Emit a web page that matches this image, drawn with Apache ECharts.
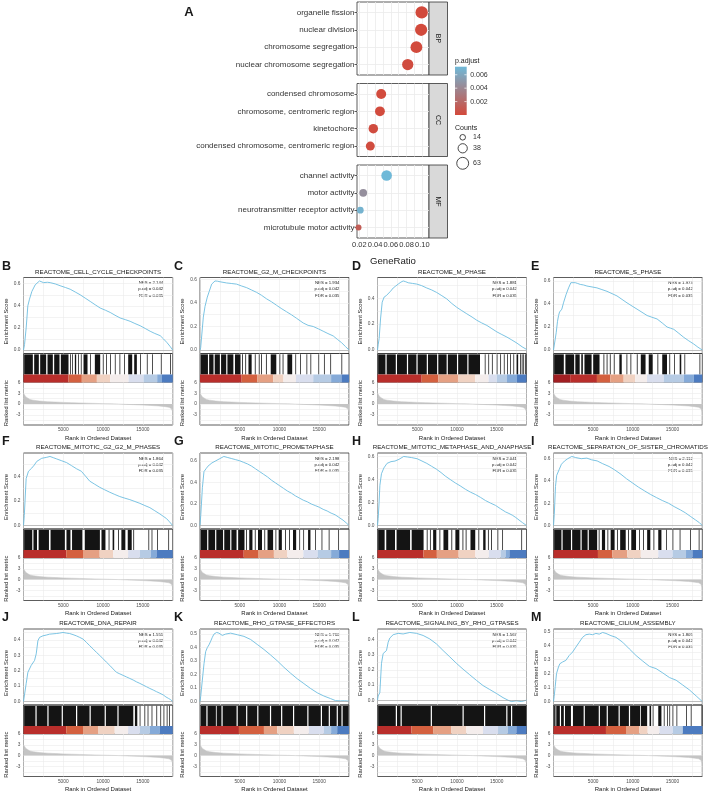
<!DOCTYPE html>
<html><head><meta charset="utf-8">
<script src="https://cdn.jsdelivr.net/npm/echarts@6/dist/echarts.min.js"></script>
<style>html,body{margin:0;padding:0;background:#fff}#chart{width:708px;height:794px}</style>
</head><body><div id="chart"></div>
<script>
// ---------------- Panel A data ----------------
const bpTerms = ['organelle fission','nuclear division','chromosome segregation','nuclear chromosome segregation'];
const bpRatio = [0.0992, 0.0985, 0.0925, 0.0815];
const bpCount = [68, 66, 62, 56];
const bpPadj = [0.00005, 0.00005, 0.0001, 0.0002];
const ccTerms = ['condensed chromosome','chromosome, centromeric region','kinetochore','condensed chromosome, centromeric region'];
const ccRatio = [0.0478, 0.0462, 0.0378, 0.034];
const ccCount = [44, 43, 40, 36];
const ccPadj = [0.0001, 0.0001, 0.0002, 0.0002];
const mfTerms = ['channel activity','motor activity','neurotransmitter receptor activity','microtubule motor activity'];
const mfRatio = [0.0547, 0.025, 0.0213, 0.019];
const mfCount = [50, 27, 20, 16];
const mfPadj = [0.0072, 0.0045, 0.0068, 0.0012];
const ratioTicks = [0.02, 0.04, 0.06, 0.08, 0.10];
const padjTicks = [0.002, 0.004, 0.006];
const countTicks = [14, 38, 63];

// ---------------- GSEA data ----------------
const panelIds = ['B','C','D','E','F','G','H','I','J','K','L','M'];
const panelTitles = ['REACTOME_CELL_CYCLE_CHECKPOINTS','REACTOME_G2_M_CHECKPOINTS','REACTOME_M_PHASE','REACTOME_S_PHASE',
  'REACTOME_MITOTIC_G2_G2_M_PHASES','REACTOME_MITOTIC_PROMETAPHASE','REACTOME_MITOTIC_METAPHASE_AND_ANAPHASE','REACTOME_SEPARATION_OF_SISTER_CHROMATIDS',
  'REACTOME_DNA_REPAIR','REACTOME_RHO_GTPASE_EFFECTORS','REACTOME_SIGNALING_BY_RHO_GTPASES','REACTOME_CILIUM_ASSEMBLY'];
const panelNES = ['2.144','1.934','1.881','1.973','1.864','2.198','2.041','2.112','1.551','1.760','1.567','1.805'];
const panelPadj = ['0.042','0.042','0.042','0.042','0.042','0.042','0.042','0.042','0.042','0.042','0.042','0.042'];
const panelFDR = ['0.035','0.035','0.035','0.035','0.035','0.035','0.035','0.035','0.035','0.035','0.035','0.035'];
const esTicks = [[0,0.2,0.4,0.6],[0,0.2,0.4,0.6],[0,0.2,0.4],[0,0.2,0.4,0.6],
  [0,0.2,0.4],[0,0.2,0.4,0.6],[0,0.2,0.4,0.6],[0,0.2,0.4,0.6],
  [0,0.1,0.2,0.3,0.4],[0,0.1,0.2,0.3,0.4,0.5],[0,0.1,0.2,0.3,0.4],[0,0.1,0.2,0.3,0.4,0.5]];
const rankTicks = [5000, 10000, 15000];
const metricTicks = [-3, 0, 3, 6];

const esB = [[0,0],[130,0.05],[335,0.2],[545,0.4],[754,0.46],[1050,0.53],[1470,0.59],[2010,0.625],[2510,0.61],[3000,0.613],[3350,0.61],[4000,0.598],[4600,0.582],[5300,0.565],[5870,0.55],[6500,0.525],[7120,0.5],[7750,0.47],[8380,0.44],[9000,0.41],[9640,0.38],[10300,0.36],[10900,0.34],[11500,0.315],[12150,0.29],[12800,0.275],[13400,0.26],[14000,0.24],[14660,0.22],[15300,0.195],[15920,0.17],[16500,0.15],[17180,0.13],[17600,0.1],[18000,0.07],[18400,0.035],[18750,0]];
const esC = [[0,0],[84,0.02],[420,0.28],[630,0.37],[920,0.45],[1170,0.5],[1470,0.56],[1890,0.587],[2200,0.585],[2520,0.58],[3350,0.57],[4000,0.565],[4610,0.56],[5200,0.545],[5870,0.53],[6500,0.51],[7120,0.49],[7750,0.465],[8380,0.435],[9000,0.41],[9640,0.38],[10300,0.35],[10900,0.325],[11500,0.3],[12150,0.27],[12990,0.23],[13600,0.21],[14250,0.2],[14900,0.18],[15500,0.16],[16100,0.14],[16760,0.12],[17300,0.09],[17810,0.063],[18300,0.03],[18750,0]];
const esD = [[0,0],[84,0.04],[210,0.09],[380,0.24],[590,0.37],[840,0.41],[1100,0.42],[1350,0.43],[1650,0.455],[1980,0.48],[2300,0.495],[2610,0.51],[2950,0.525],[3240,0.534],[3550,0.528],[3870,0.52],[4400,0.515],[4930,0.51],[5550,0.498],[6190,0.48],[6800,0.465],[7450,0.445],[8100,0.42],[8720,0.395],[9350,0.36],[9980,0.33],[10600,0.305],[11240,0.28],[11900,0.255],[12500,0.23],[13100,0.21],[13770,0.19],[14400,0.165],[15030,0.14],[15650,0.12],[16290,0.1],[16900,0.078],[17560,0.053],[18200,0.025],[18750,0.005]];
const esE = [[0,0],[84,0.01],[340,0.15],[505,0.25],[640,0.3],[760,0.33],[1050,0.355],[1260,0.41],[1600,0.485],[1900,0.54],[2190,0.585],[2440,0.6],[2740,0.585],[3050,0.578],[3370,0.57],[3800,0.565],[4210,0.556],[4850,0.548],[5470,0.54],[6100,0.525],[6740,0.51],[7370,0.49],[8000,0.47],[8630,0.44],[9260,0.41],[9900,0.382],[10530,0.355],[11150,0.328],[11790,0.3],[12400,0.285],[13050,0.27],[13700,0.235],[14310,0.2],[14730,0.19],[15160,0.18],[15800,0.145],[16420,0.11],[17050,0.08],[17680,0.052],[18200,0.025],[18750,0]];
const esF = [[0,0],[100,0.08],[333,0.38],[625,0.44],[1040,0.466],[1350,0.49],[1670,0.52],[2290,0.545],[2920,0.553],[3330,0.56],[3750,0.55],[4170,0.54],[4800,0.525],[5420,0.51],[6050,0.485],[6670,0.46],[7270,0.44],[7800,0.4],[8320,0.36],[8950,0.335],[9580,0.31],[10200,0.29],[10840,0.27],[11470,0.252],[12100,0.235],[12730,0.222],[13360,0.21],[14000,0.195],[14620,0.18],[15250,0.162],[15880,0.145],[16500,0.12],[17140,0.094],[17560,0.075],[17980,0.056],[18350,0.03],[18750,0]];
const esG = [[0,0],[100,0.1],[300,0.35],[500,0.5],[800,0.53],[1000,0.55],[1500,0.58],[2000,0.6],[2500,0.62],[3000,0.64],[3500,0.63],[4000,0.62],[4500,0.61],[5000,0.6],[5500,0.585],[6000,0.57],[6500,0.55],[7000,0.525],[7500,0.5],[8000,0.475],[8500,0.45],[9000,0.42],[9500,0.395],[10000,0.37],[10500,0.345],[11000,0.32],[11500,0.3],[12000,0.275],[12500,0.255],[13000,0.235],[13500,0.22],[14000,0.2],[14500,0.185],[15000,0.17],[15500,0.15],[16000,0.135],[16500,0.115],[17000,0.1],[17500,0.075],[18000,0.05],[18400,0.025],[18750,0]];
const esH = [[0,0],[84,0.06],[200,0.2],[300,0.35],[500,0.45],[800,0.5],[1200,0.54],[1700,0.555],[2200,0.56],[2700,0.575],[3300,0.6],[3800,0.595],[4300,0.59],[5000,0.58],[5600,0.56],[6200,0.54],[6800,0.515],[7400,0.49],[8000,0.46],[8520,0.43],[9150,0.4],[9790,0.37],[10400,0.345],[11060,0.315],[11700,0.29],[12320,0.27],[12950,0.245],[13590,0.217],[14220,0.195],[14850,0.175],[15500,0.145],[16120,0.118],[16540,0.105],[16960,0.09],[17400,0.07],[17810,0.048],[18250,0.025],[18750,0]];
const esI = [[0,0],[100,0.1],[250,0.35],[400,0.45],[700,0.5],[1000,0.55],[1400,0.58],[1800,0.6],[2300,0.62],[2800,0.61],[3500,0.6],[4200,0.605],[4800,0.59],[5500,0.58],[6200,0.555],[7000,0.53],[7700,0.5],[8500,0.46],[9200,0.42],[10000,0.38],[10700,0.345],[11500,0.31],[12200,0.28],[13000,0.25],[13700,0.225],[14500,0.2],[15200,0.17],[16000,0.14],[16600,0.115],[17300,0.08],[17900,0.05],[18400,0.025],[18750,0]];
const esJ = [[0,0],[340,0.118],[550,0.19],[970,0.235],[1390,0.267],[1600,0.31],[1810,0.395],[2020,0.417],[2440,0.427],[2860,0.432],[3280,0.438],[3700,0.44],[4120,0.442],[4540,0.445],[4960,0.449],[5380,0.445],[5800,0.442],[6220,0.435],[6640,0.427],[7060,0.417],[7480,0.406],[7900,0.385],[8320,0.363],[8740,0.342],[9160,0.32],[9580,0.3],[10000,0.278],[10420,0.256],[10840,0.235],[11260,0.212],[11680,0.19],[12100,0.18],[12520,0.17],[12940,0.16],[13360,0.15],[13780,0.14],[14200,0.128],[14620,0.118],[15040,0.107],[15460,0.096],[15880,0.085],[16300,0.075],[16720,0.064],[17140,0.054],[17560,0.043],[17900,0.03],[18200,0.021],[18500,0.012],[18750,0]];
const esK = [[0,0],[84,0.036],[293,0.048],[503,0.28],[712,0.37],[922,0.4],[1131,0.42],[1341,0.447],[1550,0.476],[1760,0.5],[2095,0.512],[2388,0.507],[2807,0.49],[3226,0.5],[3855,0.507],[4693,0.495],[5531,0.483],[6369,0.46],[7207,0.423],[8045,0.386],[8883,0.345],[9721,0.302],[10559,0.254],[11397,0.21],[12235,0.169],[13073,0.133],[13911,0.097],[14749,0.065],[15587,0.041],[16425,0.022],[17053,0.007],[17682,0.005],[18200,0.006],[18750,0.003]];
const esL = [[0,0],[84,0.028],[293,0.05],[503,0.245],[712,0.31],[922,0.32],[1131,0.33],[1341,0.385],[1550,0.413],[1969,0.435],[2598,0.444],[3226,0.44],[4064,0.45],[4902,0.444],[5740,0.43],[6578,0.407],[7416,0.374],[8254,0.33],[9092,0.288],[9930,0.245],[10768,0.206],[11606,0.169],[12444,0.132],[13282,0.097],[14120,0.071],[14958,0.045],[15796,0.017],[16425,0],[16844,-0.009],[17472,-0.004],[18101,-0.009],[18750,0]];
const esM = [[0,0],[84,0.035],[211,0.106],[379,0.2],[632,0.248],[800,0.271],[1137,0.283],[1347,0.276],[1558,0.295],[1979,0.33],[2400,0.354],[2821,0.39],[3242,0.425],[3663,0.46],[4084,0.479],[4505,0.483],[4926,0.479],[5347,0.488],[5768,0.483],[6189,0.495],[6610,0.488],[7241,0.472],[7873,0.46],[8715,0.425],[9557,0.377],[10399,0.33],[11241,0.29],[12083,0.252],[12925,0.236],[13767,0.205],[14609,0.172],[15451,0.153],[16293,0.118],[17135,0.083],[17977,0.04],[18750,0]];

const hitsB = [[84,1173],[1341,1927],[2095,2849],[3017,3687],[3855,4525],[4693,5657],[5866,5950],[6117,6201],[6453,6620],[6872,6955],[7207,7291],[7542,8045],[8380,8464],[8967,9637],[9972,10056],[10391,10475],[10894,10978],[11481,11564],[12067,12151],[12654,12737],[13157,13659],[13911,14246],[14665,14749],[15503,15587],[16173,16257],[17263,17347],[18436,18520]];
const hitsC = [[80,1000],[1150,1700],[1850,2500],[2650,3300],[3450,4200],[4400,5100],[5300,5400],[5700,5800],[6100,6500],[6900,7000],[7400,7500],[7700,7800],[8300,8400],[8900,9600],[10000,10100],[10400,10500],[11000,11600],[12000,12080],[12600,12680],[13400,13480],[13900,13980],[14900,14980],[15600,15680],[16400,16480],[17800,17880]];
const hitsD = [[80,1000],[1150,2300],[2450,3700],[3850,4900],[5050,6200],[6350,7500],[7650,8700],[8850,10000],[10150,11300],[11450,12900],[13500,13580],[13950,14030],[14400,14480],[15000,15080],[15450,15530],[15900,15980],[16300,16380],[16700,16780],[17100,17180],[17500,17700],[17950,18030],[18150,18230],[18350,18430],[18560,18640]];
const hitsE = [[80,1300],[1500,2600],[2750,3300],[3500,3700],[3900,4800],[5000,5800],[6300,6400],[6700,6800],[7100,7200],[7600,7700],[8300,8600],[9200,9300],[9700,9800],[10500,10600],[11000,11600],[12000,12500],[13100,13200],[13700,14300],[14600,14700],[15200,15280],[15900,16100],[16500,16580],[18400,18480]];
const hitsF = [[80,1100],[1250,1700],[1900,3200],[3400,5200],[5400,5900],[6100,7400],[7700,9600],[9800,10300],[10700,10800],[11200,11400],[11900,12000],[12300,12800],[13100,13600],[13800,13900],[15700,15780],[16100,16180],[16800,16880],[18200,18280]];
const hitsG = [[80,900],[1050,1900],[2050,2900],[3050,3800],[3950,4600],[4800,5600],[5800,5900],[6200,6600],[6900,7000],[7300,7800],[8100,8200],[8500,9200],[9500,9600],[9900,10300],[10700,10800],[11200,11300],[11700,12100],[12500,12580],[13000,13080],[13600,13900],[14500,14580],[15300,15380],[16200,16280],[17400,17480]];
const hitsH = [[80,900],[1100,2200],[2400,4100],[4300,5800],[6200,6300],[6600,6700],[7000,7400],[7800,7900],[8300,8900],[9300,9400],[9800,10300],[10700,10800],[11100,11200],[11700,12300],[12700,12800],[13300,13600],[13900,14000],[14300,14400],[15100,15180],[15700,15780],[18100,18180]];
const hitsI = [[80,1000],[1150,2200],[2350,3400],[3550,4300],[4450,5500],[5700,5800],[6100,6500],[6800,6900],[7200,7700],[8000,8100],[8400,9100],[9400,9500],[9800,10400],[10800,10900],[11300,11400],[11800,12200],[12600,12700],[13200,13600],[14200,14280],[15000,15080],[15900,15980],[17200,17280],[18300,18380]];
const hitsJ = [[80,1500],[1650,3000],[3150,4800],[4950,6600],[6750,8300],[8450,10200],[10350,11800],[11950,13800],[14000,14300],[14600,14680],[15200,15280],[15600,15680],[16100,16180],[16700,16780],[17200,17280],[17600,17680],[18000,18080],[18300,18380]];
const hitsK = [[80,800],[950,2000],[2100,2700],[2850,4600],[4750,5800],[5950,7200],[7350,8800],[8950,10200],[10350,11700],[11850,13500],[13650,15200],[15350,16200],[16350,17200],[17350,17800],[17950,18700]];
const hitsL = [[80,2300],[2450,2900],[3050,6700],[6850,10700],[10850,13400],[13550,16200],[16350,16800],[16950,18700]];
const hitsM = [[80,250],[350,800],[950,1300],[1450,2200],[2450,3800],[3950,5700],[5850,6700],[6850,8200],[8350,9500],[9650,10900],[11000,11800],[12100,12300],[12500,12580],[13200,13600],[13900,13980],[14300,14380],[14600,14680],[15000,15080],[15500,15580],[16700,16780],[17300,17380],[18660,18740]];

// colour-band bin ends (ranks), 10 colours from dark red to dark blue
const bandB = [0,5660,7330,9220,10900,13200,15080,16800,17400];
const bandC = [0,5240,7200,9220,10500,12070,14250,16500,17800];
const bandD = [0,5557,7662,10188,12293,13977,15000,16293,17556];
const bandE = [2100,5473,7157,8841,10300,11788,13893,16419,17682];
const bandF = [0,5376,7476,9576,11256,13146,14616,16000,16716];
const bandG = [0,5500,7300,9300,11000,13000,14800,16500,17500];
const bandH = [0,5781,7469,10212,12322,14010,15500,16120,16600];
const bandI = [0,5600,7400,9300,11000,13200,15000,16700,17500];
const bandJ = [0,5376,7476,9366,11466,13146,14616,15876,17136];
const bandK = [0,4900,8045,9720,11815,13700,15587,16500,17263];
const bandL = [0,4274,6997,9300,11190,13282,15168,16400,17472];
const bandM = [0,6610,9136,10820,11870,13345,15030,16293,16293];
const bandColors = ['#A11E22','#B92E2B','#D4603F','#E5A083','#F0D2C2','#F4EDEC','#D9DEEE','#B6CBE4','#85AAD8','#4C7BC0'];

const metricRank = [0,100,300,500,800,1200,2000,3000,4000,5000,6000,7000,8000,9000,10000,11000,12000,13000,14000,15000,16000,17000,17800,18300,18600,18700,18750];
const metricValue = [3.0,2.6,2.0,1.6,1.3,1.1,0.85,0.68,0.57,0.48,0.4,0.33,0.26,0.2,0.13,0.07,0.0,-0.08,-0.17,-0.27,-0.38,-0.52,-0.7,-0.9,-1.3,-1.8,-2.2];

const esAll = [esB,esC,esD,esE,esF,esG,esH,esI,esJ,esK,esL,esM];
const hitsAll = [hitsB,hitsC,hitsD,hitsE,hitsF,hitsG,hitsH,hitsI,hitsJ,hitsK,hitsL,hitsM];
const bandAll = [bandB,bandC,bandD,bandE,bandF,bandG,bandH,bandI,bandJ,bandK,bandL,bandM];

// ---------------- layout ----------------
const FONT = '"Liberation Sans", Arial, sans-serif';
const XMAX = 18750;
const colLeft = [23.5, 200, 377.5, 553.5];
const colWidth = [149.2, 149, 149, 148.8];
const rowTop = [277.5, 453, 629];
const ES_H = 76, MID_H = 29, RANK_H = 42.5;
const letterX = [2, 174, 352, 531];
const GRID_C = '#EBEBEB';
const AXT = '#4D4D4D';

const grids = [], xAxes = [], yAxes = [], series = [], graphics = [];
function addGrid(left, top, width, height) {
  grids.push({left, top, width, height, show: true, borderColor: '#333', borderWidth: 0.8, backgroundColor: 'transparent'});
  return grids.length - 1;
}
function txt(x, y, text, font, opts) {
  const o = Object.assign({align: 'center', vAlign: 'middle', fill: '#1a1a1a', rotation: 0}, opts || {});
  graphics.push({type: 'text', x, y, rotation: o.rotation, silent: true,
    style: {text, font, fill: o.fill, align: o.align, verticalAlign: o.vAlign, textAlign: o.align, textVerticalAlign: o.vAlign}});
}
const sizeOf = n => 1.5 * Math.sqrt(n);

// ---------------- Panel A ----------------
const facets = [
  {name: 'BP', terms: bpTerms, ratio: bpRatio, count: bpCount, padj: bpPadj, top: 2},
  {name: 'CC', terms: ccTerms, ratio: ccRatio, count: ccCount, padj: ccPadj, top: 83.5},
  {name: 'MF', terms: mfTerms, ratio: mfRatio, count: mfCount, padj: mfPadj, top: 165}
];
const DOT_L = 357, DOT_W = 72, DOT_H = 73;
const dotGridVals = [0.02,0.03,0.04,0.05,0.06,0.07,0.08,0.09,0.10];
facets.forEach((f, i) => {
  const g = addGrid(DOT_L, f.top, DOT_W, DOT_H);
  xAxes.push({gridIndex: g, type: 'value', min: 0.0171, max: 0.1085,
    axisLine: {show: false}, axisTick: {show: false, customValues: dotGridVals},
    axisLabel: i === 2 ? {show: true, customValues: ratioTicks, formatter: v => v.toFixed(2), fontSize: 7.5, color: '#333', margin: 3} : {show: false},
    splitLine: {show: true, lineStyle: {color: GRID_C, width: 0.8}}});
  yAxes.push({gridIndex: g, type: 'value', min: 0.4, max: 4.6, inverse: true,
    axisLine: {show: false},
    axisTick: {show: true, customValues: [1,2,3,4], length: 2.5, lineStyle: {color: '#333', width: 0.8}},
    axisLabel: {customValues: [1,2,3,4], formatter: v => f.terms[Math.round(v) - 1], fontSize: 8, color: '#333', margin: 2.5},
    splitLine: {show: true, lineStyle: {color: GRID_C, width: 0.8}}});
  series.push({type: 'scatter', xAxisIndex: g, yAxisIndex: g, z: 5,
    data: f.terms.map((t, k) => [f.ratio[k], k + 1, f.count[k], f.padj[k]]),
    symbolSize: v => sizeOf(v[2]), itemStyle: {opacity: 1}});
  // strip
  graphics.push({type: 'rect', silent: true, shape: {x: DOT_L + DOT_W, y: f.top, width: 18.5, height: DOT_H},
    style: {fill: '#D9D9D9', stroke: '#333', lineWidth: 0.8}});
  txt(DOT_L + DOT_W + 9.25, f.top + DOT_H / 2, f.name, '7px ' + FONT, {rotation: -Math.PI / 2});
});
txt(189, 12.5, 'A', 'bold 13px ' + FONT);
txt(DOT_L + DOT_W / 2, 261, 'GeneRatio', '9.6px ' + FONT);

// legends
const PMAX = 0.0072, BAR_T = 66.7, BAR_H = 48.3, BAR_X = 455, BAR_W = 11.7;
const LOW_C = '#D3493B', HIGH_C = '#6FB9D8';
txt(BAR_X, 61.5, 'p.adjust', '7px ' + FONT, {align: 'left'});
graphics.push({type: 'rect', silent: true, shape: {x: BAR_X, y: BAR_T, width: BAR_W, height: BAR_H},
  style: {fill: {type: 'linear', x: 0, y: 0, x2: 0, y2: 1, colorStops: [{offset: 0, color: HIGH_C}, {offset: 1, color: LOW_C}]}}});
padjTicks.forEach(v => {
  const y = BAR_T + (1 - v / PMAX) * BAR_H;
  graphics.push({type: 'line', silent: true, shape: {x1: BAR_X, y1: y, x2: BAR_X + 2.3, y2: y}, style: {stroke: '#fff', lineWidth: 0.7}});
  graphics.push({type: 'line', silent: true, shape: {x1: BAR_X + BAR_W - 2.3, y1: y, x2: BAR_X + BAR_W, y2: y}, style: {stroke: '#fff', lineWidth: 0.7}});
  txt(BAR_X + BAR_W + 3.5, y, v.toFixed(3), '7px ' + FONT, {align: 'left', fill: '#333'});
});
txt(BAR_X, 127.7, 'Counts', '7px ' + FONT, {align: 'left'});
const countY = [137.3, 148.3, 163.3];
countTicks.forEach((n, k) => {
  graphics.push({type: 'circle', silent: true, shape: {cx: 462.7, cy: countY[k], r: sizeOf(n) / 2},
    style: {fill: 'none', stroke: '#1a1a1a', lineWidth: 0.8}});
  txt(473, countY[k], String(n), '7px ' + FONT, {align: 'left', fill: '#333'});
});

// ---------------- GSEA panels ----------------
const metricData = metricRank.map((r, k) => [r, metricValue[k]]);
panelIds.forEach((id, i) => {
  const r = Math.floor(i / 4), c = i % 4;
  const L = colLeft[c], W = colWidth[c], T = rowTop[r];
  const es = esAll[i];
  let lo = 0, hi = 0;
  es.forEach(p => { lo = Math.min(lo, p[1]); hi = Math.max(hi, p[1]); });
  const pad = (hi - lo) * 0.05;
  const ticks = esTicks[i];
  const step = ticks[1] - ticks[0];
  const gridVals = [];
  for (let v = 0; v <= hi + pad + 1e-9; v += step / 2) gridVals.push(+v.toFixed(3));

  // ES panel
  const g1 = addGrid(L, T, W, ES_H);
  xAxes.push({gridIndex: g1, type: 'value', min: 0, max: XMAX, interval: 2500,
    axisLine: {show: false}, axisTick: {show: false}, axisLabel: {show: false},
    splitLine: {show: true, lineStyle: {color: GRID_C, width: 0.6}}});
  yAxes.push({gridIndex: g1, type: 'value', min: lo - pad, max: hi + pad,
    axisLine: {show: false}, axisTick: {show: false, customValues: gridVals},
    axisLabel: {customValues: ticks, formatter: v => v.toFixed(1), fontSize: 4.8, color: AXT, margin: 3},
    splitLine: {show: true, lineStyle: {color: GRID_C, width: 0.6}}});
  series.push({type: 'line', xAxisIndex: g1, yAxisIndex: g1, data: es, showSymbol: false, symbol: 'none',
    lineStyle: {color: '#6DBDE0', width: 0.9}, z: 4,
    markLine: {silent: true, symbol: 'none', label: {show: false}, data: [{yAxis: 0}],
      lineStyle: {color: '#9A9A9A', width: 0.6, type: 'solid'}, animation: false}});

  // hits + colour band panel
  const g2 = addGrid(L, T + ES_H, W, MID_H);
  xAxes.push({gridIndex: g2, type: 'value', min: 0, max: XMAX, show: false, splitLine: {show: false}});
  yAxes.push({gridIndex: g2, type: 'value', min: 0, max: 1, show: false, splitLine: {show: false}});
  const bandTop = 8 / MID_H;
  const hitData = hitsAll[i].map(h => [h[0], h[1], bandTop, 0.97]);
  const b = bandAll[i];
  const bandData = [];
  for (let k = 0; k < bandColors.length; k++) {
    const s = k === 0 ? 0 : b[k - 1];
    const e = k < b.length ? b[k] : XMAX;
    if (e > s) bandData.push([s, e, 0, bandTop, k]);
  }
  const rectRender = (minW, colorFn) => (params, api) => {
    const p0 = api.coord([api.value(0), api.value(3)]);
    const p1 = api.coord([api.value(1), api.value(2)]);
    return {type: 'rect', shape: {x: p0[0], y: p0[1], width: Math.max(p1[0] - p0[0], minW), height: p1[1] - p0[1]},
      style: {fill: colorFn(api)}};
  };
  series.push({type: 'custom', xAxisIndex: g2, yAxisIndex: g2, data: hitData, encode: {x: [0, 1], y: [2, 3]},
    renderItem: rectRender(0.75, () => '#141414'), silent: true});
  series.push({type: 'custom', xAxisIndex: g2, yAxisIndex: g2, data: bandData, encode: {x: [0, 1], y: [2, 3]},
    renderItem: rectRender(0, api => bandColors[api.value(4)]), silent: true});

  // ranked metric panel
  const g3 = addGrid(L, T + ES_H + MID_H, W, RANK_H);
  xAxes.push({gridIndex: g3, type: 'value', min: 0, max: XMAX, interval: 2500,
    axisLine: {show: false}, axisTick: {show: false},
    axisLabel: {show: true, formatter: v => (rankTicks.indexOf(v) >= 0 ? String(v) : ''), fontSize: 4.8, color: AXT, margin: 2.5},
    splitLine: {show: true, lineStyle: {color: GRID_C, width: 0.6}}});
  yAxes.push({gridIndex: g3, type: 'value', min: -5.8, max: 6,
    axisLine: {show: false}, axisTick: {show: false, customValues: [-4.5, -3, -1.5, 0, 1.5, 3, 4.5, 6]},
    axisLabel: {customValues: metricTicks, formatter: v => String(v), fontSize: 4.8, color: AXT, margin: 3},
    splitLine: {show: true, lineStyle: {color: GRID_C, width: 0.6}}});
  series.push({type: 'line', xAxisIndex: g3, yAxisIndex: g3, data: metricData, showSymbol: false, symbol: 'none',
    lineStyle: {color: '#C4C4C4', width: 0.5}, areaStyle: {color: '#C4C4C4', opacity: 1}, z: 3});

  // texts
  const cx = L + W / 2;
  txt(letterX[c], T - 11, id, 'bold 12.5px ' + FONT, {align: 'left'});
  txt(cx, T - 5.5, panelTitles[i], '6.2px ' + FONT);
  txt(L + W - 9.5, T + 5.5, 'NES = ' + panelNES[i], '4.3px ' + FONT, {align: 'right'});
  txt(L + W - 9.5, T + 11.8, 'p.adj = ' + panelPadj[i], '4.3px ' + FONT, {align: 'right'});
  txt(L + W - 9.5, T + 18.1, 'FDR = ' + panelFDR[i], '4.3px ' + FONT, {align: 'right'});
  txt(L - 17.5, T + 44, 'Enrichment Score', '5.8px ' + FONT, {rotation: Math.PI / 2});
  txt(L - 17.5, T + ES_H + MID_H + RANK_H / 2 - 0.5, 'Ranked list metric', '5.8px ' + FONT, {rotation: Math.PI / 2});
  txt(cx, T + ES_H + MID_H + RANK_H + 13, 'Rank in Ordered Dataset', '6px ' + FONT);
});

const chart = echarts.init(document.getElementById('chart'), null, {renderer: 'canvas'});
chart.setOption({
  animation: false,
  backgroundColor: '#fff',
  textStyle: {fontFamily: FONT},
  grid: grids, xAxis: xAxes, yAxis: yAxes,
  visualMap: [{type: 'continuous', show: false, min: 0, max: PMAX, dimension: 3, seriesIndex: [0, 1, 2],
    inRange: {color: [LOW_C, HIGH_C]}}],
  graphic: {elements: graphics},
  series: series
});
</script></body></html>
